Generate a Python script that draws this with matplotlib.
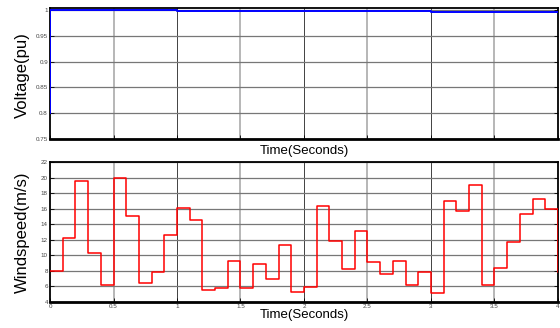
import numpy as np
import matplotlib
matplotlib.use("Agg")
import matplotlib.pyplot as plt

plt.rcParams['font.family'] = ['Liberation Sans', 'DejaVu Sans']

# Voltage (pu) step profile
v_time = [0.0, 0.0, 1.0, 2.0, 3.0, 4.0]
v_vals = [0.80, 1.0, 0.999, 0.998, 0.996, 0.996]

# Wind speed, 0.1 s steps
w_time = [round(0.1 * i, 1) for i in range(41)]
w_vals = [8.0, 12.2, 19.5, 10.3, 6.2, 19.9, 15.0, 6.5, 7.8, 12.6,
          16.1, 14.6, 5.5, 5.8, 9.3, 5.8, 8.9, 6.9, 11.3, 5.3,
          5.9, 16.4, 11.8, 8.3, 13.1, 9.2, 7.6, 9.3, 6.2, 7.9,
          5.1, 17.0, 15.7, 19.1, 6.2, 8.4, 11.7, 15.3, 17.2, 16.0,
          7.9]

x_ticks = [0, 0.5, 1, 1.5, 2, 2.5, 3, 3.5, 4]
x_labels = ["0", "0.5", "1", "1.5", "2", "2.5", "3", "3.5", "4"]
v_ticks = [0.75, 0.8, 0.85, 0.9, 0.95, 1.0]
v_labels = ["0.75", "0.8", "0.85", "0.9", "0.95", "1"]
w_ticks = list(range(4, 23, 2))

fig = plt.figure(figsize=(5.6, 3.28), dpi=100)
ax1 = fig.add_axes([0.0893, 0.5762, 0.9071, 0.3994])
ax2 = fig.add_axes([0.0893, 0.0793, 0.9071, 0.4268])


def style(ax):
    ax.set_xlim(0, 4)
    ax.set_xticks(x_ticks)
    ax.tick_params(direction='in', length=3, width=0.6, labelsize=4.5,
                   labelcolor='#444444', right=True, top=False, pad=1.5)
    ax.grid(axis='y', color='#777777', lw=0.9, ls='-')
    for xv in x_ticks[1:-1]:
        if abs(xv - round(xv)) < 1e-9:
            ax.axvline(xv, color='#222222', lw=0.6, zorder=0.5)
        else:
            ax.axvline(xv, color='#aaaaaa', lw=1.2, zorder=0.5)
    for s in ['left', 'top', 'right']:
        ax.spines[s].set_linewidth(1.3)
    ax.spines['bottom'].set_linewidth(2.0)
    ax.set_axisbelow(True)


style(ax1)
ax1.plot(v_time, v_vals, color='#0000ff', lw=1.4, drawstyle='steps-post', zorder=3)
ax1.set_ylim(0.75, 1.004)
ax1.set_yticks(v_ticks)
ax1.set_yticklabels(v_labels)
ax1.set_xticklabels([])
ax1.set_ylabel('Voltage(pu)', fontsize=12)
ax1.yaxis.set_label_coords(-0.04, 0.49)
ax1.set_xlabel('Time(Seconds)', fontsize=9.5)
ax1.xaxis.set_label_coords(0.5, -0.045)

style(ax2)
ax2.plot(w_time, w_vals, color='#ff0000', lw=1.1, drawstyle='steps-post', zorder=3)
ax2.set_ylim(4, 22)
ax2.set_yticks(w_ticks)
ax2.set_xticklabels(x_labels)
ax2.set_ylabel('Windspeed(m/s)', fontsize=12)
ax2.yaxis.set_label_coords(-0.04, 0.5)
ax2.set_xlabel('Time(Seconds)', fontsize=9.5)
ax2.xaxis.set_label_coords(0.5, -0.05)

fig.savefig('out.png', dpi=100)
